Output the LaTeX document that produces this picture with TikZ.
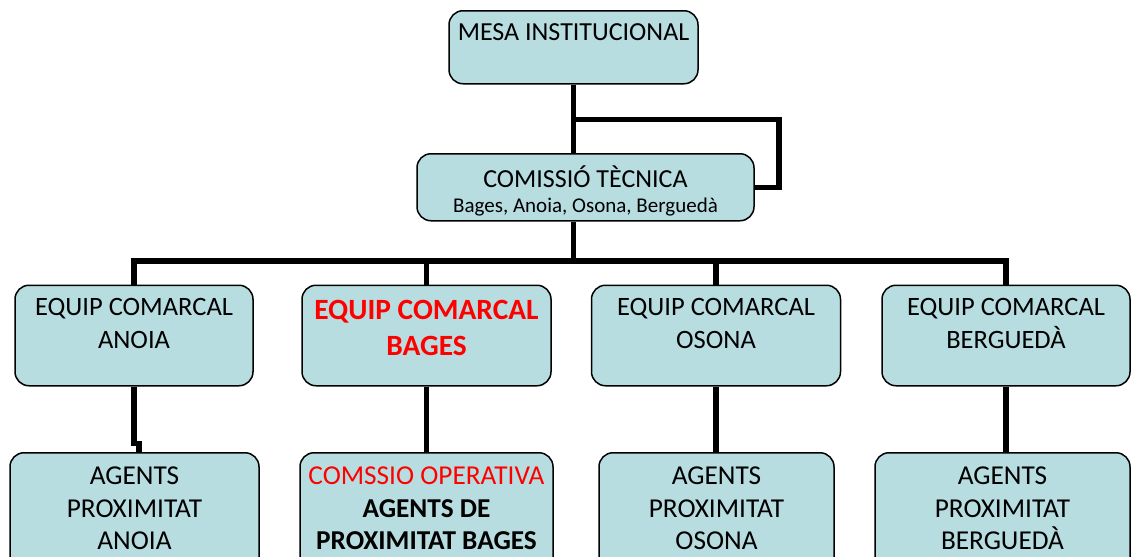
\documentclass[tikz,border=0pt]{standalone}
\usepackage{fontspec}
\setmainfont{Carlito}
\definecolor{boxfill}{RGB}{183,221,225}
\tikzset{
  orgbox/.style={draw=black, line width=1.5pt, fill=boxfill, rounded corners=14pt,
    inner sep=0pt, anchor=north, align=flush center,
    font={\fontsize{26}{33}\selectfont}},
  midbox/.style={orgbox, text height=30.5pt, text depth=70pt,
    font={\fontsize{26.5}{33}\selectfont}},
  lowbox/.style={orgbox, text height=32pt, text depth=150pt,
    font={\fontsize{27.3}{32.5}\selectfont}},
  link/.style={line width=5.5pt, line join=miter},
}
\begin{document}
\begin{tikzpicture}[x=1pt, y=-1pt]
  \clip (0,0) rectangle (1133,557);
  % top levels
  \node[orgbox, text width=249pt, text height=30pt, text depth=43pt] (mesa) at (573.5,10) {MESA INSTITUCIONAL};
  \node[orgbox, text width=337pt, text height=34pt, text depth=33pt] (comissio) at (585.5,153)
    {COMISSIÓ TÈCNICA\\[-8pt]\fontsize{21}{25}\selectfont Bages, Anoia, Osona, Berguedà};
  % equips comarcals
  \node[midbox, text width=238pt] (eqanoia) at (134,284.5) {EQUIP COMARCAL\\ANOIA};
  \node[midbox, text width=249pt, text height=34pt, text depth=66.5pt, text=red,
    font={\fontsize{29.4}{36}\selectfont\bfseries}] (eqbages) at (426.5,284.5) {EQUIP COMARCAL\\BAGES};
  \node[midbox, text width=249pt] (eqosona) at (716,284.5) {EQUIP COMARCAL\\OSONA};
  \node[midbox, text width=248pt] (eqbergueda) at (1006,284.5) {EQUIP COMARCAL\\BERGUEDÀ};
  % agents
  \node[lowbox, text width=249pt] (aganoia) at (134.5,452) {AGENTS\\PROXIMITAT\\ANOIA};
  \node[lowbox, text width=253pt] (agbages) at (426.5,452)
    {\textcolor{red}{COMSSIO OPERATIVA}\\\textbf{AGENTS DE}\\\textbf{PROXIMITAT BAGES}};
  \node[lowbox, text width=235pt] (agosona) at (716.5,452) {AGENTS\\PROXIMITAT\\OSONA};
  \node[lowbox, text width=255pt] (agbergueda) at (1002.5,452) {AGENTS\\PROXIMITAT\\BERGUEDÀ};
  \begin{scope}[link]
    \draw (mesa.south) -- (mesa.south |- comissio.north);
    \draw (mesa.south) ++(0,35) -| ([xshift=24pt]comissio.east) -- (comissio.east);
    \draw (mesa.south |- comissio.south) -- ++(0,41);
    \draw (eqanoia.north) -- ++(0,-23.5) -| (eqbergueda.north);
    \draw (eqbages.north) -- ++(0,-23.5);
    \draw (eqosona.north) -- ++(0,-23.5);
    \draw (eqanoia.south) -- ++(0,57) -| ([xshift=4.5pt]aganoia.north);
    \draw (eqbages.south) -- (agbages.north);
    \draw (eqosona.south) -- (eqosona.south |- agosona.north);
    \draw (eqbergueda.south) -- (eqbergueda.south |- agbergueda.north);
  \end{scope}
\end{tikzpicture}
\end{document}
